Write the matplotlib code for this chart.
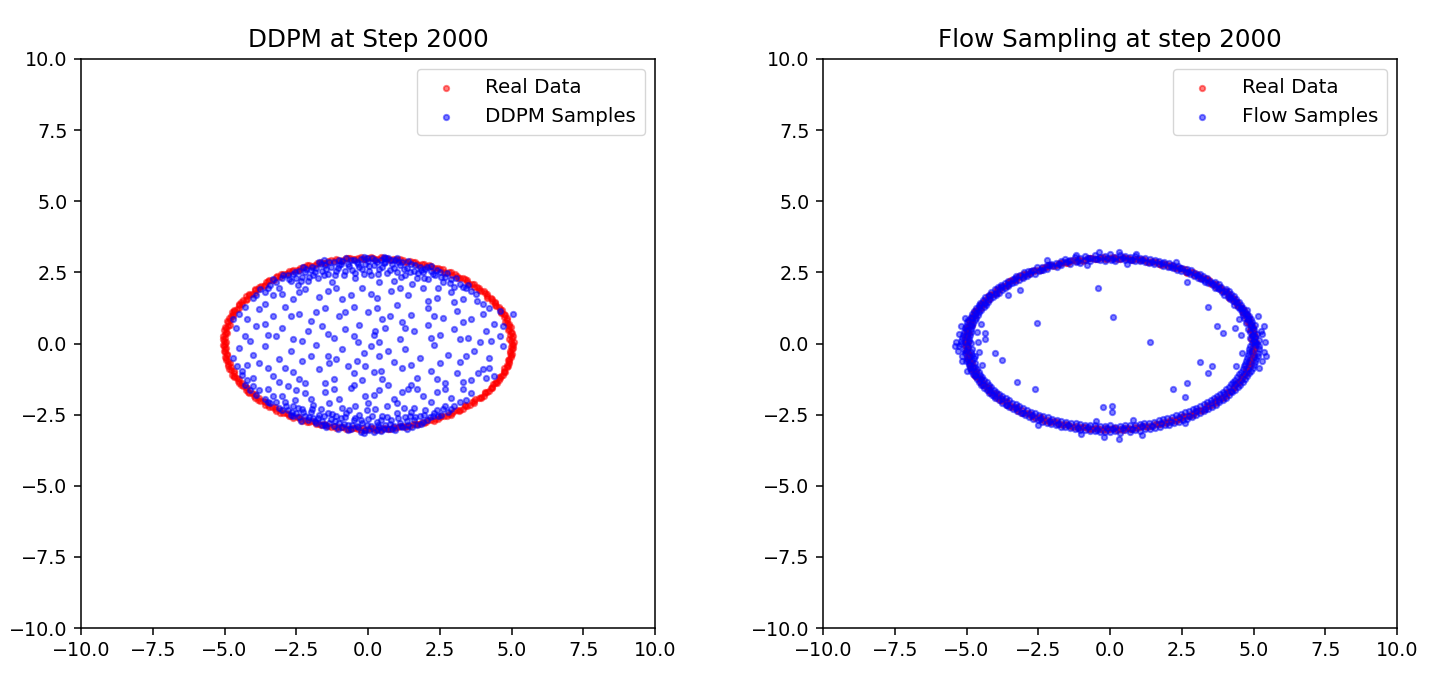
import numpy as np
import matplotlib
matplotlib.use("Agg")
import matplotlib.pyplot as plt

# ---------------- data ----------------
titles = ["DDPM at Step 2000", "Flow Sampling at step 2000"]
sample_labels = ["DDPM Samples", "Flow Samples"]
real_label = "Real Data"
ticks = [-10.0, -7.5, -5.0, -2.5, 0.0, 2.5, 5.0, 7.5, 10.0]

real_q1 = [(5.03,0.00),(4.97,0.10),(5.02,0.21),(4.95,0.31),(4.98,0.42),(4.90,0.52),(4.93,0.62),(4.83,0.73),(4.85,0.83),(4.74,0.93),(4.73,1.04),(4.62,1.11),(4.60,1.23),(4.47,1.31),(4.44,1.43),(4.31,1.49),(4.27,1.61),(4.13,1.67),(4.08,1.78),(3.92,1.84),(3.86,1.95),(3.70,2.00),(3.63,2.10),(3.46,2.15),(3.37,2.25),(3.20,2.29),(3.10,2.38),(2.93,2.42),(2.82,2.51),(2.64,2.53),(2.52,2.62),(2.34,2.64),(2.21,2.72),(2.02,2.73),(1.89,2.80),(1.70,2.81),(1.56,2.87),(1.37,2.87),(1.22,2.93),(1.03,2.92),(0.88,2.97),(0.69,2.96),(0.53,3.00),(0.34,2.98),(0.18,3.02)]
real_q2 = [(0.00,3.01),(-0.17,2.98),(-0.36,3.01),(-0.52,2.97),(-0.71,2.99),(-0.86,2.94),(-1.05,2.95),(-1.20,2.90),(-1.39,2.90),(-1.54,2.84),(-1.72,2.84),(-1.86,2.77),(-2.04,2.76),(-2.18,2.69),(-2.36,2.67),(-2.49,2.59),(-2.66,2.56),(-2.79,2.48),(-2.95,2.45),(-3.07,2.35),(-3.22,2.32),(-3.34,2.22),(-3.48,2.18),(-3.59,2.07),(-3.73,2.03),(-3.82,1.92),(-3.95,1.87),(-4.04,1.75),(-4.16,1.70),(-4.23,1.58),(-4.35,1.52),(-4.40,1.40),(-4.51,1.34),(-4.56,1.21),(-4.66,1.14),(-4.69,1.02),(-4.78,0.95),(-4.80,0.82),(-4.87,0.74),(-4.88,0.62),(-4.94,0.53),(-4.94,0.41),(-4.99,0.32),(-4.98,0.21),(-5.02,0.10)]
real_q3 = [(-4.98,0.00),(-5.03,-0.10),(-4.97,-0.21),(-5.00,-0.31),(-4.93,-0.42),(-4.95,-0.52),(-4.87,-0.62),(-4.88,-0.73),(-4.79,-0.83),(-4.79,-0.94),(-4.68,-1.03),(-4.67,-1.13),(-4.55,-1.21),(-4.52,-1.33),(-4.40,-1.40),(-4.36,-1.51),(-4.22,-1.58),(-4.18,-1.69),(-4.03,-1.75),(-3.97,-1.86),(-3.81,-1.92),(-3.75,-2.03),(-3.58,-2.07),(-3.50,-2.17),(-3.33,-2.22),(-3.24,-2.31),(-3.06,-2.35),(-2.96,-2.44),(-2.78,-2.48),(-2.67,-2.56),(-2.49,-2.59),(-2.37,-2.67),(-2.18,-2.69),(-2.05,-2.76),(-1.86,-2.77),(-1.72,-2.84),(-1.54,-2.84),(-1.39,-2.90),(-1.20,-2.90),(-1.05,-2.95),(-0.86,-2.94),(-0.71,-2.99),(-0.52,-2.97),(-0.36,-3.01),(-0.17,-2.98)]
real_q4 = [(0.00,-3.02),(0.18,-2.98),(0.34,-3.01),(0.53,-2.96),(0.69,-2.99),(0.88,-2.93),(1.03,-2.95),(1.22,-2.89),(1.37,-2.90),(1.56,-2.83),(1.70,-2.84),(1.89,-2.76),(2.02,-2.76),(2.21,-2.68),(2.34,-2.67),(2.52,-2.58),(2.64,-2.56),(2.82,-2.47),(2.93,-2.45),(3.10,-2.34),(3.20,-2.32),(3.37,-2.21),(3.46,-2.18),(3.63,-2.06),(3.70,-2.03),(3.86,-1.91),(3.92,-1.87),(4.08,-1.74),(4.13,-1.70),(4.27,-1.57),(4.31,-1.52),(4.44,-1.39),(4.47,-1.34),(4.60,-1.20),(4.62,-1.14),(4.73,-1.01),(4.74,-0.95),(4.85,-0.81),(4.83,-0.75),(4.93,-0.61),(4.90,-0.54),(4.98,-0.41),(4.95,-0.32),(5.02,-0.20),(4.97,-0.11)]
real_b1 = [(5.07,0.05),(4.93,0.16),(5.04,0.26),(5.01,0.37),(4.88,0.47),(4.97,0.57),(4.92,0.68),(4.78,0.77),(4.84,0.89),(4.77,0.99),(4.62,1.07),(4.66,1.19),(4.57,1.28),(4.42,1.34),(4.41,1.47),(4.33,1.57),(4.15,1.61),(4.14,1.74),(4.03,1.84),(3.86,1.87),(3.81,2.00),(3.69,2.08),(3.51,2.10),(3.44,2.22),(3.30,2.30),(3.12,2.30),(3.03,2.44),(2.89,2.50),(2.70,2.49),(2.60,2.61),(2.43,2.66),(2.26,2.64),(2.12,2.76),(1.96,2.80),(1.79,2.77),(1.64,2.88),(1.47,2.91),(1.29,2.87),(1.13,2.96),(0.96,2.98),(0.78,2.93),(0.61,3.02),(0.44,3.03),(0.26,2.97),(0.09,3.04)]
real_b2 = [(-0.09,2.97),(-0.26,3.04),(-0.44,2.96),(-0.61,3.01),(-0.78,2.99),(-0.95,2.91),(-1.12,2.96),(-1.29,2.93),(-1.46,2.84),(-1.63,2.88),(-1.79,2.83),(-1.95,2.73),(-2.12,2.76),(-2.28,2.70),(-2.41,2.59),(-2.60,2.60),(-2.74,2.55),(-2.85,2.43),(-3.03,2.43),(-3.17,2.36),(-3.26,2.23),(-3.44,2.22),(-3.57,2.15),(-3.63,2.02),(-3.80,2.00),(-3.93,1.92),(-3.95,1.78),(-4.14,1.75),(-4.24,1.66),(-4.25,1.53),(-4.42,1.47),(-4.51,1.38),(-4.49,1.26),(-4.66,1.19),(-4.73,1.09),(-4.69,0.97),(-4.85,0.89),(-4.90,0.79),(-4.82,0.66),(-4.98,0.58),(-5.01,0.47),(-4.91,0.37),(-5.05,0.26),(-5.06,0.16),(-4.94,0.05)]
real_b3 = [(-5.06,-0.05),(-4.95,-0.16),(-5.03,-0.26),(-4.90,-0.37),(-5.00,-0.47),(-4.96,-0.57),(-4.81,-0.67),(-4.89,-0.79),(-4.84,-0.89),(-4.67,-0.97),(-4.73,-1.09),(-4.66,-1.19),(-4.48,-1.26),(-4.51,-1.38),(-4.43,-1.47),(-4.24,-1.53),(-4.24,-1.65),(-4.15,-1.75),(-3.94,-1.79),(-3.93,-1.92),(-3.82,-2.00),(-3.61,-2.03),(-3.58,-2.15),(-3.45,-2.23),(-3.24,-2.24),(-3.19,-2.36),(-3.05,-2.44),(-2.84,-2.44),(-2.75,-2.56),(-2.61,-2.61),(-2.40,-2.60),(-2.29,-2.71),(-2.14,-2.76),(-1.94,-2.74),(-1.80,-2.84),(-1.64,-2.88),(-1.45,-2.85),(-1.30,-2.94),(-1.13,-2.96),(-0.95,-2.92),(-0.78,-3.00),(-0.62,-3.02),(-0.44,-2.97),(-0.26,-3.04),(-0.09,-3.04)]
real_b4 = [(0.09,-2.97),(0.26,-3.04),(0.44,-3.03),(0.61,-2.96),(0.78,-3.00),(0.95,-2.98),(1.12,-2.90),(1.29,-2.94),(1.46,-2.91),(1.63,-2.82),(1.79,-2.84),(1.96,-2.80),(2.10,-2.70),(2.29,-2.71),(2.44,-2.66),(2.56,-2.55),(2.75,-2.56),(2.90,-2.50),(2.99,-2.38),(3.18,-2.36),(3.31,-2.29),(3.38,-2.17),(3.57,-2.15),(3.70,-2.08),(3.74,-1.95),(3.92,-1.92),(4.03,-1.84),(4.07,-1.71),(4.23,-1.66),(4.33,-1.57),(4.34,-1.44),(4.50,-1.38),(4.57,-1.29),(4.57,-1.16),(4.71,-1.10),(4.77,-0.99),(4.75,-0.87),(4.87,-0.79),(4.91,-0.68),(4.88,-0.57),(4.98,-0.48),(5.00,-0.37),(4.95,-0.26),(5.04,-0.16),(5.05,-0.05)]

ddpm_top = [(-3.4,2.05),(-3.2,2.15),(-3.0,2.30),(-3.1,1.95),(-2.8,2.40),(-2.7,2.20),(-2.6,2.45),(-2.5,2.30),(-2.4,2.55),(-2.3,2.35),(-2.2,2.50),(-2.1,2.20),(-2.0,2.60),(-1.9,2.40),(-1.8,2.65),(-1.75,2.30),(-1.6,2.55),(-1.5,2.75),(-1.4,2.45),(-1.3,2.70),(-1.2,2.85),(-1.1,2.55),(-1.0,2.75),(-0.9,2.90),(-0.85,2.40),(-0.7,2.80),(-0.6,2.95),(-0.55,2.60),(-0.4,2.85),(-0.3,2.70),(-0.25,2.98),(-0.1,2.80),(0.0,2.90),(0.05,2.55),(0.15,3.02),(0.2,2.75),(0.3,2.88),(0.35,2.45),(0.45,2.95),(0.5,2.70),(0.6,2.85),(0.7,3.00),(0.75,2.60),(0.85,2.80),(0.95,2.92),(1.0,2.50),(1.1,2.75),(1.2,2.88),(1.3,2.40),(1.35,2.65),(1.5,2.80),(1.6,2.55),(1.7,2.30),(1.8,2.70),(1.9,2.50),(2.0,2.62),(2.1,2.25),(2.2,2.55),(2.35,2.40),(2.5,2.50),(2.6,2.15),(2.7,2.35),(2.9,2.25),(3.0,2.00),(3.2,2.10),(3.4,1.95),(3.6,1.85),(-0.45,2.30),(0.9,2.20),(-1.25,2.15),(0.4,2.15),(-2.45,2.05),(1.55,2.10),(-0.15,2.45),(-3.6,1.80),(2.45,1.95),(-0.75,3.02),(0.55,3.05),(-1.55,2.95)]
ddpm_top2 = [(-2.95,2.42),(-2.75,2.28),(-2.55,2.52),(-2.35,2.18),(-2.15,2.62),(-2.05,2.35),(-1.95,2.70),(-1.85,2.52),(-1.65,2.78),(-1.55,2.40),(-1.45,2.62),(-1.35,2.88),(-1.15,2.42),(-1.05,2.65),(-0.95,2.80),(-0.80,2.55),(-0.65,2.72),(-0.50,2.92),(-0.45,2.48),(-0.35,2.78),(-0.20,2.62),(-0.05,3.00),(0.05,2.72),(0.10,2.42),(0.25,2.92),(0.40,2.62),(0.55,2.82),(0.65,2.48),(0.80,2.95),(0.90,2.65),(1.05,2.85),(1.15,2.35),(1.25,2.62),(1.40,2.90),(1.45,2.50),(1.65,2.75),(1.75,2.48),(1.85,2.58),(1.95,2.30),(2.05,2.68),(2.25,2.45),(2.40,2.58),(2.55,2.32),(2.75,2.48),(2.85,2.12),(3.05,2.30),(3.3,2.00),(3.5,2.05),(3.75,1.75),(-3.3,2.25),(-3.5,1.95),(-3.75,1.90),(-3.9,1.70),(-1.7,2.85),(-0.15,3.05),(0.6,3.02),(1.0,3.00),(-1.0,2.95),(-2.25,2.70),(2.2,2.72)]
ddpm_bottom = [(-3.6,-1.95),(-3.4,-2.10),(-3.3,-1.85),(-3.1,-2.25),(-2.9,-2.05),(-2.8,-2.35),(-2.7,-2.50),(-2.6,-2.20),(-2.5,-2.45),(-2.4,-2.60),(-2.3,-2.30),(-2.2,-2.55),(-2.1,-2.70),(-2.0,-2.40),(-1.9,-2.62),(-1.8,-2.80),(-1.7,-2.50),(-1.6,-2.72),(-1.5,-2.85),(-1.4,-2.45),(-1.3,-2.65),(-1.2,-2.90),(-1.1,-2.55),(-1.0,-2.78),(-0.9,-2.95),(-0.8,-2.60),(-0.7,-2.85),(-0.6,-3.00),(-0.5,-2.70),(-0.4,-2.90),(-0.3,-2.50),(-0.2,-2.80),(-0.1,-3.05),(0.0,-2.65),(0.1,-2.90),(0.2,-3.10),(0.3,-2.75),(0.4,-2.95),(0.5,-2.55),(0.6,-2.85),(0.7,-3.00),(0.8,-2.70),(0.9,-2.90),(1.0,-2.45),(1.1,-2.80),(1.2,-2.95),(1.3,-2.60),(1.4,-2.85),(1.5,-2.40),(1.6,-2.70),(1.7,-2.85),(1.8,-2.55),(1.9,-2.75),(2.0,-2.35),(2.15,-2.60),(2.3,-2.45),(2.45,-2.55),(2.6,-2.30),(2.8,-2.40),(3.0,-2.20),(-0.25,-3.12),(0.45,-3.08),(-1.05,-3.02),(0.95,-3.05),(-1.65,-2.30),(-0.65,-2.35),(0.25,-2.30),(1.25,-2.25),(-2.55,-2.00),(-3.8,-1.65),(-4.0,-1.50),(-4.2,-1.30),(-4.4,-1.10),(-3.9,-1.80),(-0.45,-2.20),(0.65,-2.20),(-1.35,-2.10)]
ddpm_bottom2 = [(-3.2,-2.05),(-3.0,-2.35),(-2.85,-2.20),(-2.65,-2.40),(-2.45,-2.28),(-2.35,-2.72),(-2.25,-2.42),(-2.05,-2.58),(-1.95,-2.30),(-1.85,-2.72),(-1.75,-2.62),(-1.55,-2.55),(-1.45,-2.95),(-1.35,-2.78),(-1.25,-2.48),(-1.15,-2.72),(-0.95,-2.62),(-0.85,-2.82),(-0.75,-2.45),(-0.55,-2.88),(-0.45,-2.62),(-0.35,-2.95),(-0.25,-2.68),(-0.05,-2.85),(0.05,-3.05),(0.15,-2.55),(0.35,-2.88),(0.45,-2.68),(0.55,-3.02),(0.65,-2.60),(0.75,-2.82),(0.85,-3.00),(1.05,-2.62),(1.15,-2.90),(1.35,-2.72),(1.45,-2.55),(1.55,-2.95),(1.65,-2.60),(1.85,-2.82),(1.95,-2.50),(2.05,-2.70),(2.25,-2.55),(2.4,-2.35),(2.55,-2.50),(2.7,-2.20),(2.9,-2.30),(3.2,-2.05),(3.4,-2.00),(-0.15,-3.15),(0.3,-3.05),(-0.7,-3.05),(1.35,-3.00),(-1.6,-2.88),(-2.6,-2.55),(-3.5,-2.05),(-4.1,-1.65),(-4.3,-1.45),(-4.55,-0.80),(-0.05,-2.35),(1.6,-2.25)]
ddpm_inner = [(-4.0,1.60),(-3.6,1.40),(-3.0,1.75),(-2.6,1.55),(-2.2,1.90),(-1.7,1.65),(-1.1,1.95),(-0.6,1.70),(-0.2,1.95),(0.3,1.60),(0.8,1.85),(1.4,1.70),(1.9,1.95),(2.4,1.60),(2.9,1.80),(3.3,1.55),(3.8,1.50),(4.2,1.25),(4.6,1.15),(5.05,1.05),
              (-4.5,1.05),(-4.2,0.85),(-3.8,1.20),(-3.3,0.95),(-2.9,1.30),(-2.4,1.05),(-2.0,0.80),(-1.5,1.25),(-1.0,0.95),(-0.5,1.30),(0.0,1.10),(0.5,0.85),(1.0,1.35),(1.5,1.00),(2.1,1.25),(2.6,0.90),(3.1,1.15),(3.6,0.85),(4.0,1.05),(4.4,0.70),
              (-4.6,0.55),(-4.3,0.25),(-3.9,0.60),(-3.5,0.30),(-3.0,0.55),(-2.6,0.15),(-2.1,0.45),(-1.6,0.60),(-1.2,0.20),(-0.8,0.50),(-0.3,0.65),(0.2,0.30),(0.6,0.55),(1.1,0.15),(1.6,0.45),(2.1,0.65),(2.5,0.30),(3.0,0.50),(3.5,0.20),(4.1,0.45),(4.6,0.25),
              (-4.5,-0.15),(-4.0,-0.40),(-3.6,-0.10),(-3.1,-0.55),(-2.7,-0.25),(-2.3,-0.60),(-1.8,-0.05),(-1.4,-0.45),(-0.9,-0.20),(-0.4,-0.60),(0.1,-0.10),(0.4,-0.45),(0.9,-0.65),(1.3,-0.20),(1.8,-0.50),(2.3,-0.05),(2.8,-0.40),(3.2,-0.65),(3.7,-0.25),(4.2,-0.50),(4.7,-0.10),
              (-4.4,-0.95),(-4.0,-1.20),(-3.5,-0.85),(-3.1,-1.35),(-2.6,-1.00),(-2.2,-1.40),(-1.7,-0.90),(-1.2,-1.25),(-0.7,-0.80),(-0.2,-1.30),(0.2,-1.00),(0.7,-1.45),(1.2,-0.85),(1.7,-1.20),(2.2,-0.95),(2.7,-1.40),(3.1,-1.05),(3.6,-1.30),(4.0,-0.90),(4.4,-1.15),
              (-3.5,-1.60),(-3.0,-1.85),(-2.5,-1.65),(-2.0,-1.95),(-1.5,-1.70),(-1.0,-1.95),(-0.6,-1.55),(-0.1,-1.85),(0.4,-1.65),(0.9,-1.95),(1.4,-1.60),(1.9,-1.85),(2.4,-1.70),(2.9,-1.90),(3.3,-1.60),(3.6,-1.75),(-1.9,-2.15),(-0.9,-2.25),(0.0,-2.10),(1.0,-2.10),(2.2,-2.05),
              (-0.35,0.05),(0.45,-0.95),(-0.15,-0.35),(0.75,0.95),(-1.35,-0.70),(1.2,-1.70),(-0.5,-1.05),(0.25,0.45),(-2.8,-1.50),(3.9,0.05)]
ddpm_inner2 = [(-4.3,1.30),(-3.3,1.70),(-2.4,1.80),(-1.4,1.85),(-0.9,1.55),(0.1,1.75),(1.1,1.95),(2.1,1.50),(3.0,1.45),(4.0,1.40),
               (-4.7,0.85),(-3.6,0.70),(-2.7,0.95),(-1.8,1.10),(-0.8,1.10),(0.3,1.25),(1.2,0.75),(2.3,0.95),(3.3,0.75),(4.7,0.60),
               (-4.1,0.10),(-3.2,0.25),(-2.3,0.10),(-1.4,0.35),(-0.5,0.25),(0.4,0.05),(1.3,0.55),(2.2,0.20),(3.2,0.15),(4.3,0.10),
               (-4.7,-0.50),(-3.8,-0.70),(-2.9,-0.85),(-2.0,-0.45),(-1.1,-0.55),(-0.1,-0.80),(0.7,-0.25),(1.5,-0.75),(2.5,-0.70),(3.4,-0.45),
               (-4.2,-0.75),(-3.3,-1.15),(-2.4,-1.25),(-1.5,-1.40),(-0.5,-1.45),(0.5,-1.25),(1.5,-1.45),(2.4,-1.25),(3.3,-1.35),(4.2,-0.85),
               (-2.2,-1.75),(-1.2,-1.60),(0.2,-1.80),(1.7,-1.60),(2.7,-1.60),(4.1,-1.20),(3.85,-1.05)]

flow_q1 = [(5.12,0.00),(4.95,0.03),(5.02,0.10),(5.20,0.12),(4.89,0.20),(5.06,0.22),(5.11,0.32),(4.97,0.30),(4.88,0.41),(5.26,0.45),(4.99,0.53),(4.82,0.51),(5.05,0.64),(4.90,0.61),(4.74,0.71),(4.95,0.74),(4.90,0.85),(4.81,0.82),(4.68,0.90),(4.86,0.96),(4.76,1.05),(4.64,1.01),(4.78,1.16),(4.60,1.10),(4.52,1.20),(4.63,1.24),(4.58,1.36),(4.45,1.29),(4.33,1.37),(4.49,1.45),(4.40,1.55),(4.30,1.48),(4.18,1.55),(4.33,1.66),(4.20,1.73),(4.10,1.64),(4.14,1.83),(3.98,1.70),(3.90,1.80),(4.04,1.93),(3.88,1.97),(3.80,1.90),(3.79,2.09),(3.66,1.96),(3.58,2.05),(3.67,2.16),(3.50,2.20),(3.43,2.11),(3.31,2.17),(3.39,2.29),(3.25,2.37),(3.18,2.26),(3.05,2.31),(3.12,2.44),(2.97,2.49),(2.92,2.39),(2.83,2.57),(2.78,2.44),(2.64,2.51),(2.68,2.63),(2.52,2.66),(2.48,2.55),(2.33,2.60),(2.37,2.72),(2.20,2.76),(2.18,2.66),(2.04,2.82),(2.02,2.70),(1.86,2.73),(1.88,2.86),(1.72,2.90),(1.70,2.79),(1.55,2.80),(1.56,2.93),(1.39,2.96),(1.37,2.84),(1.21,2.87),(1.22,3.00),(1.05,3.02),(1.03,2.90),(0.87,2.91),(0.88,3.06),(0.70,3.04),(0.69,2.94),(0.52,2.93),(0.53,3.09),(0.35,3.12),(0.34,2.96),(0.17,3.03),(0.18,2.90)]
flow_q2 = [(0.00,3.13),(0.02,2.95),(-0.17,2.91),(-0.18,3.08),(-0.35,3.04),(-0.34,2.93),(-0.53,3.11),(-0.52,2.98),(-0.70,2.89),(-0.71,3.02),(-0.88,3.07),(-0.86,2.92),(-1.04,2.99),(-1.03,2.84),(-1.22,3.04),(-1.20,2.88),(-1.38,2.80),(-1.39,2.94),(-1.56,2.98),(-1.54,2.86),(-1.71,2.76),(-1.72,2.90),(-1.88,2.84),(-1.86,2.68),(-2.04,2.81),(-2.03,2.72),(-2.21,2.77),(-2.18,2.62),(-2.37,2.70),(-2.34,2.58),(-2.53,2.68),(-2.49,2.56),(-2.67,2.59),(-2.62,2.46),(-2.84,2.56),(-2.78,2.45),(-2.99,2.50),(-2.90,2.36),(-3.12,2.42),(-3.04,2.30),(-3.27,2.36),(-3.17,2.24),(-3.39,2.28),(-3.30,2.16),(-3.54,2.21),(-3.43,2.12),(-3.66,2.13),(-3.54,2.01),(-3.79,2.06),(-3.66,1.95),(-3.91,1.97),(-3.77,1.88),(-4.02,1.90),(-3.88,1.79),(-4.14,1.80),(-3.98,1.71),(-4.23,1.71),(-4.08,1.63),(-4.34,1.63),(-4.18,1.55),(-4.42,1.52),(-4.25,1.46),(-4.52,1.44),(-4.33,1.37),(-4.58,1.34),(-4.40,1.29),(-4.68,1.24),(-4.49,1.19),(-4.75,1.14),(-4.55,1.10),(-4.82,1.05),(-4.61,1.00),(-4.86,0.94),(-4.66,0.91),(-4.94,0.84),(-4.72,0.81),(-4.97,0.74),(-4.76,0.72),(-5.03,0.63),(-4.80,0.61),(-5.06,0.53),(-4.83,0.51),(-5.10,0.42),(-4.85,0.41),(-5.12,0.31),(-4.88,0.30),(-5.15,0.21),(-4.90,0.20),(-5.18,0.10),(-4.92,0.10)]
flow_q3 = [(-5.20,-0.02),(-4.85,0.01),(-4.95,-0.11),(-5.25,-0.09),(-5.10,-0.22),(-4.80,-0.20),(-5.05,-0.32),(-4.86,-0.30),(-5.15,-0.43),(-4.82,-0.40),(-4.98,-0.53),(-4.75,-0.50),(-5.02,-0.63),(-4.80,-0.60),(-4.92,-0.75),(-4.70,-0.70),(-4.88,-0.85),(-4.70,-0.81),(-4.85,-0.95),(-4.62,-0.90),(-4.78,-1.06),(-4.58,-1.00),(-4.70,-1.15),(-4.52,-1.09),(-4.65,-1.25),(-4.46,-1.18),(-4.55,-1.36),(-4.38,-1.28),(-4.48,-1.45),(-4.30,-1.36),(-4.38,-1.55),(-4.22,-1.45),(-4.30,-1.64),(-4.14,-1.54),(-4.20,-1.74),(-4.05,-1.62),(-4.11,-1.82),(-3.96,-1.70),(-3.99,-1.92),(-3.86,-1.78),(-3.88,-2.00),(-3.75,-1.85),(-3.76,-2.08),(-3.64,-1.93),(-3.64,-2.16),(-3.53,-2.00),(-3.51,-2.24),(-3.41,-2.08),(-3.38,-2.31),(-3.29,-2.14),(-3.24,-2.39),(-3.16,-2.21),(-3.11,-2.45),(-3.03,-2.27),(-2.96,-2.52),(-2.90,-2.33),(-2.82,-2.58),(-2.76,-2.40),(-2.67,-2.64),(-2.62,-2.45),(-2.52,-2.70),(-2.47,-2.50),(-2.36,-2.75),(-2.33,-2.55),(-2.20,-2.80),(-2.17,-2.59),(-2.04,-2.84),(-2.01,-2.64),(-1.88,-2.88),(-1.85,-2.68),(-1.72,-2.92),(-1.70,-2.72),(-1.56,-2.95),(-1.54,-2.75),(-1.39,-2.98),(-1.37,-2.78),(-1.22,-3.00),(-1.20,-2.81),(-1.05,-3.03),(-1.03,-2.83),(-0.88,-3.05),(-0.86,-2.85),(-0.70,-3.07),(-0.69,-2.87),(-0.53,-3.08),(-0.52,-2.88),(-0.35,-3.10),(-0.34,-2.89),(-0.18,-3.10),(-0.17,-2.90)]
flow_q4 = [(0.00,-3.12),(0.01,-2.88),(0.18,-3.08),(0.17,-2.92),(0.35,-3.14),(0.34,-2.90),(0.53,-3.05),(0.52,-2.86),(0.71,-3.10),(0.70,-2.88),(0.88,-3.04),(0.86,-2.85),(1.05,-3.06),(1.03,-2.84),(1.22,-3.00),(1.20,-2.80),(1.40,-2.99),(1.37,-2.78),(1.57,-2.96),(1.54,-2.75),(1.73,-2.92),(1.70,-2.70),(1.90,-2.88),(1.85,-2.66),(2.06,-2.85),(2.00,-2.62),(2.22,-2.79),(2.16,-2.58),(2.39,-2.76),(2.31,-2.53),(2.54,-2.69),(2.46,-2.48),(2.70,-2.64),(2.60,-2.42),(2.85,-2.58),(2.75,-2.37),(3.00,-2.52),(2.88,-2.31),(3.14,-2.45),(3.01,-2.25),(3.28,-2.38),(3.14,-2.18),(3.42,-2.31),(3.27,-2.12),(3.55,-2.23),(3.39,-2.05),(3.68,-2.15),(3.51,-1.98),(3.80,-2.07),(3.62,-1.92),(3.92,-1.99),(3.74,-1.85),(4.04,-1.90),(3.84,-1.77),(4.15,-1.82),(3.95,-1.69),(4.26,-1.72),(4.04,-1.60),(4.36,-1.64),(4.13,-1.52),(4.45,-1.54),(4.21,-1.44),(4.54,-1.45),(4.29,-1.35),(4.62,-1.35),(4.36,-1.27),(4.70,-1.25),(4.44,-1.18),(4.78,-1.15),(4.50,-1.08),(4.85,-1.05),(4.56,-0.99),(4.91,-0.95),(4.62,-0.90),(4.97,-0.85),(4.66,-0.80),(5.02,-0.75),(4.70,-0.71),(5.06,-0.64),(4.74,-0.60),(5.10,-0.54),(4.78,-0.50),(5.14,-0.43),(4.80,-0.41),(5.16,-0.32),(4.83,-0.30),(5.18,-0.21),(4.85,-0.20),(5.20,-0.10),(4.88,-0.10)]
flow_mid = [(5.04,0.05),(4.95,0.26),(5.00,0.47),(4.90,0.67),(4.82,0.89),(4.70,1.09),(4.55,1.25),(4.40,1.47),(4.17,1.62),(4.02,1.83),(3.75,1.96),(3.57,2.14),(3.27,2.24),(3.03,2.42),(2.71,2.50),(2.43,2.65),(2.11,2.70),(1.80,2.83),(1.46,2.85),(1.13,2.95),(0.78,2.94),(0.45,3.02),(0.09,2.98),
            (-0.09,3.02),(-0.44,2.97),(-0.78,2.99),(-1.12,2.90),(-1.47,2.90),(-1.79,2.78),(-2.12,2.75),(-2.42,2.60),(-2.74,2.55),(-3.01,2.37),(-3.30,2.29),(-3.53,2.10),(-3.80,2.00),(-3.98,1.79),(-4.22,1.66),(-4.36,1.43),(-4.57,1.29),(-4.66,1.06),(-4.82,0.90),(-4.86,0.66),(-4.99,0.48),(-4.97,0.26),(-5.05,0.05),
            (-4.97,-0.05),(-5.03,-0.26),(-4.92,-0.47),(-4.91,-0.68),(-4.76,-0.87),(-4.71,-1.10),(-4.51,-1.26),(-4.41,-1.47),(-4.18,-1.62),(-4.03,-1.83),(-3.76,-1.96),(-3.58,-2.15),(-3.27,-2.25),(-3.04,-2.43),(-2.71,-2.51),(-2.44,-2.66),(-2.10,-2.71),(-1.80,-2.84),(-1.46,-2.86),(-1.13,-2.96),(-0.78,-2.94),(-0.44,-3.03),(-0.09,-2.98),
            (0.09,-3.02),(0.44,-2.97),(0.78,-3.00),(1.12,-2.90),(1.47,-2.90),(1.79,-2.78),(2.12,-2.76),(2.42,-2.60),(2.74,-2.55),(3.01,-2.37),(3.30,-2.29),(3.53,-2.10),(3.80,-2.00),(3.98,-1.79),(4.22,-1.66),(4.36,-1.43),(4.57,-1.29),(4.66,-1.06),(4.82,-0.90),(4.86,-0.66),(5.00,-0.48),(4.96,-0.26),(5.05,-0.05)]
flow_extra = [(5.45,-0.45),(5.35,-0.30),(5.30,-0.60),(5.40,0.05),(5.28,0.35),(5.35,0.60),(5.20,-0.85),(5.15,0.95),(4.55,0.30),(4.60,-0.35),(4.50,0.85),(4.40,-0.80),(4.35,0.55),
              (-5.35,0.05),(-5.30,-0.25),(-5.25,0.35),(-5.40,-0.10),(-5.20,0.60),(-5.15,-0.60),(-4.60,0.05),(-4.55,-0.30),(-4.65,0.40),(-4.50,0.70),(-4.45,-0.75),(-4.70,-0.45),(-4.35,0.15),(-5.05,0.90),(-5.00,-0.95),
              (-0.4,3.20),(0.3,3.22),(-1.2,3.12),(0.9,3.15),(-2.2,2.92),(2.3,2.88),(-0.8,2.75),(0.6,2.78),(-0.2,-3.28),(0.3,-3.35),(-1.0,-3.18),(1.1,-3.20),(-2.5,-2.85),(2.6,-2.80),(-0.5,-2.72),(0.8,-2.70)]
flow_inner = [(-2.54,0.72),(-0.42,1.95),(0.10,0.93),(1.39,0.05),(-4.00,-0.35),(-3.76,-0.58),(-3.24,-1.35),(-2.61,-1.60),(3.14,-0.65),(3.55,-0.79),(3.41,-1.04),(2.68,-1.39),(2.20,-1.60),(2.60,-1.88),(2.68,2.16),(3.41,1.28),(3.73,0.62),(3.94,0.37),(-3.14,1.88),(-3.55,1.70),(-4.36,0.37),(-0.24,-2.22),(0.08,-2.20),(0.07,-2.41)]

real = np.array(real_q1 + real_q2 + real_q3 + real_q4 + real_b1 + real_b2 + real_b3 + real_b4)
ddpm = np.array(ddpm_top + ddpm_top2 + ddpm_bottom + ddpm_bottom2 + ddpm_inner + ddpm_inner2)
flow = np.array(flow_q1 + flow_q2 + flow_q3 + flow_q4 + flow_mid + flow_extra + flow_inner)
samples = [ddpm, flow]

# ---------------- figure ----------------
plt.rcParams['font.family'] = ['DejaVu Sans']
fig = plt.figure(figsize=(14.4, 6.98), dpi=100)
W, H = 1440, 698
axes_px = [(81, 59, 655, 628), (823, 59, 1397, 628)]
S = 1.38
for i, (l, t, r, b) in enumerate(axes_px):
    ax = fig.add_axes([l / W, 1 - b / H, (r - l) / W, (b - t) / H])
    ax.scatter(real[:, 0], real[:, 1], s=15, c='red', alpha=0.5,
               linewidths=1.0 * S, label=real_label)
    ax.scatter(samples[i][:, 0], samples[i][:, 1], s=15, c='blue', alpha=0.5,
               linewidths=1.0 * S, label=sample_labels[i])
    ax.set_xlim(-10, 10)
    ax.set_ylim(-10, 10)
    ax.set_xticks(ticks)
    ax.set_yticks(ticks)
    ax.tick_params(labelsize=10 * S, length=3.5 * S, width=0.8 * S, pad=3.5 * S)
    for sp in ax.spines.values():
        sp.set_linewidth(0.8 * S)
    ax.set_title(titles[i], fontsize=17.7, pad=6 * S)
    ax.legend(loc='upper right', fontsize=14.3, borderpad=0.45, handletextpad=1.0,
              framealpha=0.8, edgecolor='#cccccc')

fig.savefig("out.png", dpi=100)
